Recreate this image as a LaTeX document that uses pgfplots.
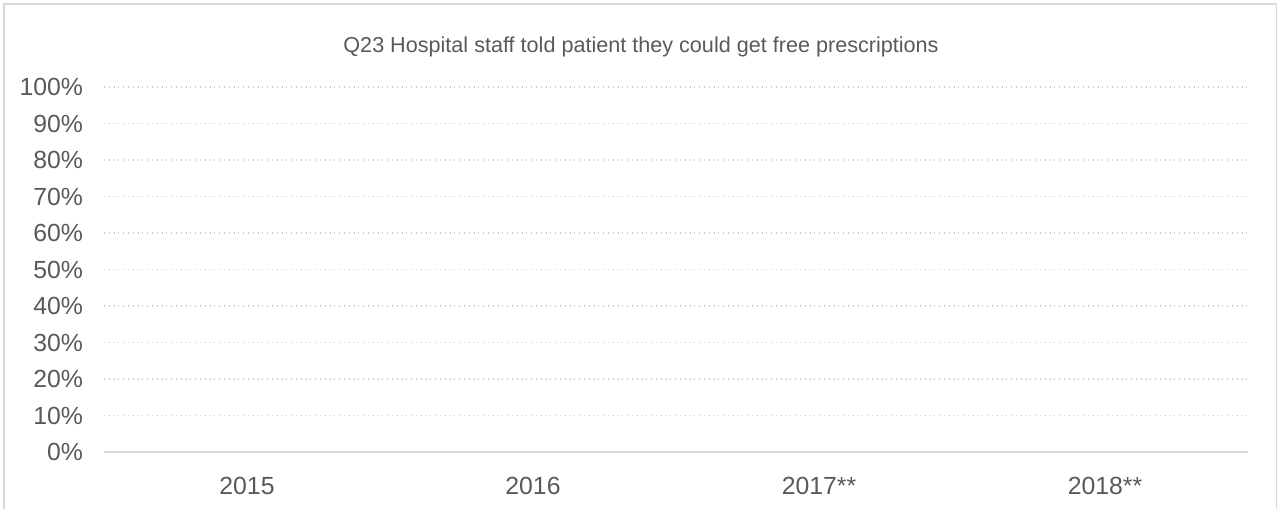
\documentclass[border=0pt]{standalone}
\usepackage{pgfplots}
\pgfplotsset{compat=1.18}
\usepackage{fontspec}
\setmainfont{Liberation Sans}
\definecolor{gridc}{HTML}{D9D9D9}
\definecolor{txt}{HTML}{595959}
\begin{document}
\begin{tikzpicture}[x=1pt,y=1pt]
\useasboundingbox (0,0) rectangle (639,254);
\draw[gridc, line width=0.8pt] (2,-5) -- (2,252) -- (638.3,252) -- (638.3,-5);
\node[txt, font=\fontsize{10.8}{12}\selectfont] at (320.5,230.5) {Q23 Hospital staff told patient they could get free prescriptions};
\begin{axis}[
  at={(52pt,28pt)}, anchor=south west,
  scale only axis, width=572pt, height=182.5pt,
  xmin=-0.5, xmax=3.5, ymin=0, ymax=1,
  xtick={0,1,2,3},
  xticklabels={2015,2016,2017**,2018**},
  ytick={0,0.1,...,1.0},
  yticklabel={\pgfmathparse{round(\tick*100)}\pgfmathprintnumber[fixed,precision=0]{\pgfmathresult}\%},
  /pgf/number format/assume math mode=true,
  axis x line*=bottom, axis y line*=left,
  x axis line style={gridc, line width=0.7pt, -},
  y axis line style={draw=none},
  ymajorgrids, major grid style={gridc!85!gray, dotted, line width=0.6pt},
  major tick length=0pt,
  tick style={draw=none},
  ticklabel style={txt, font=\fontsize{12.4}{14}\selectfont},
  yticklabel style={anchor=east, xshift=-7pt},
  xticklabel style={yshift=-9pt},
  clip=false,
]
\addplot[draw=none] coordinates {(0,0)};
\end{axis}
\end{tikzpicture}
\end{document}
